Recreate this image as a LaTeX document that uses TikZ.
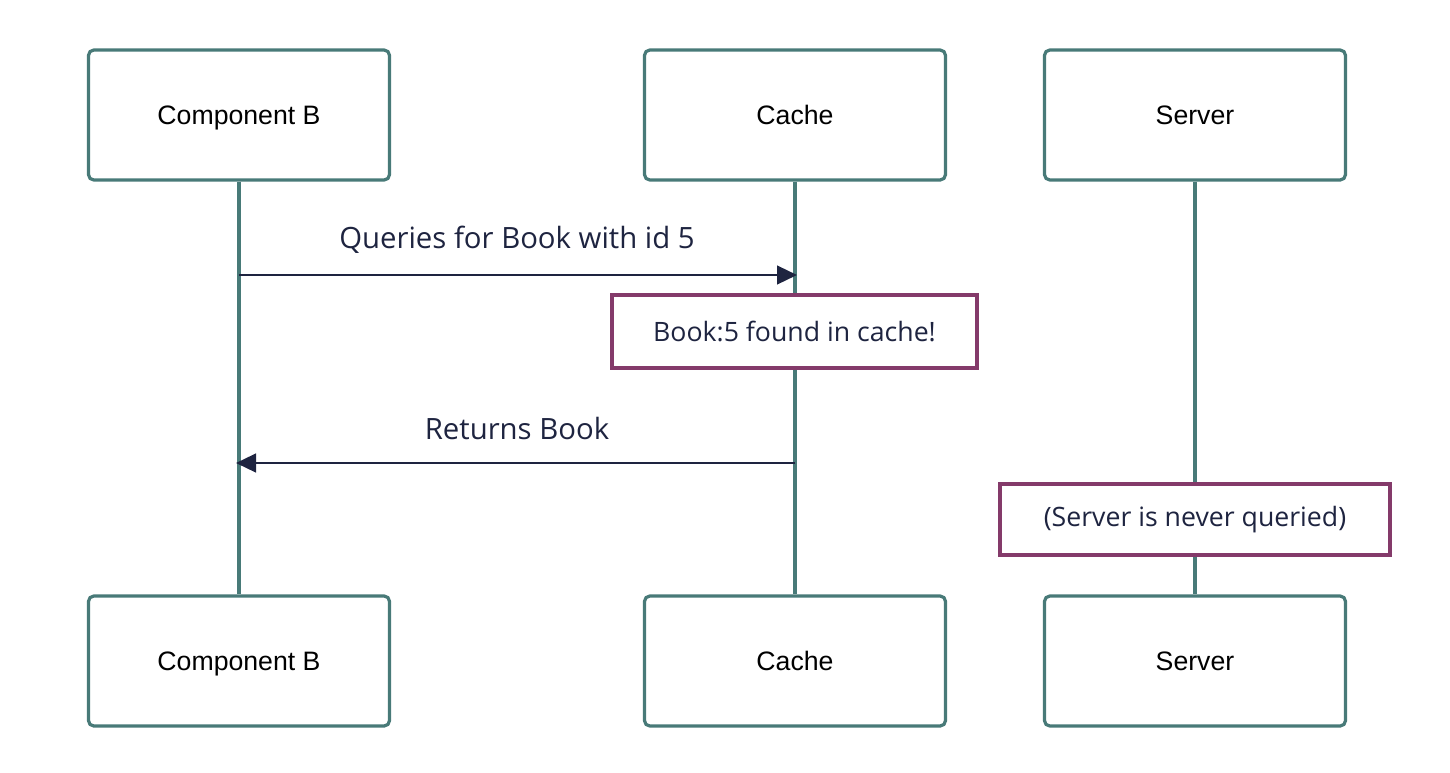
\documentclass[tikz,border=0pt]{standalone}
\usepackage{fontspec}
\setmainfont{Liberation Sans}
\newfontfamily\msgfont{Open Sans}
\usetikzlibrary{arrows.meta}
\definecolor{teal}{HTML}{487A78}
\definecolor{plum}{HTML}{843A6A}
\definecolor{ink}{HTML}{1E2440}
\tikzset{
  actor/.style={draw=teal, line width=2.4pt, rounded corners=4pt, fill=white, minimum width=301*0.75pt, minimum height=130*0.75pt, inner sep=0pt, font=\fontsize{20}{24}\selectfont, text=black, text height=18.3pt, text depth=4pt},
  life/.style={draw=teal, line width=2.6pt},
  note/.style={draw=plum, line width=2.6pt, fill=white, inner sep=0pt, font=\msgfont\fontsize{20}{24}\selectfont, text=ink},
  msg/.style={draw=ink, line width=1.8pt, -{Triangle[length=15pt,width=14pt]}},
  msglabel/.style={font=\msgfont\fontsize{22}{26}\selectfont, text=ink, inner sep=0pt}
}
\begin{document}
\begin{tikzpicture}[x=0.75pt,y=-0.75pt]
\useasboundingbox (0,0) rectangle (1450,772);
\node[actor] (bt) at (239,115) {Component B};
\node[actor] (ct) at (795,115) {Cache};
\node[actor] (st) at (1195,115) {Server};
\node[actor] (bb) at (239,661) {Component B};
\node[actor] (cb) at (795,661) {Cache};
\node[actor] (sb) at (1195,661) {Server};
\draw[life] (bt.south) -- (bb.north);
\draw[life] (ct.south) -- (cb.north);
\draw[life] (st.south) -- (sb.north);
\coordinate (a1s) at (239,275);
\coordinate (a1e) at (797,275);
\draw[msg] (a1s) -- (a1e);
\node[msglabel] (l1) at (517,240) {Queries for Book with id 5};
\node[note, minimum width=365*0.75pt, minimum height=73*0.75pt] (n1) at (794.5,331.5) {Book:5 found in cache!};
\coordinate (a2s) at (795,463);
\coordinate (a2e) at (236,463);
\draw[msg] (a2s) -- (a2e);
\node[msglabel] (l2) at (517,428) {Returns Book};
\node[note, minimum width=390*0.75pt, minimum height=71*0.75pt] (n2) at (1195,519.5) {(Server is never queried)};
\end{tikzpicture}
\end{document}
